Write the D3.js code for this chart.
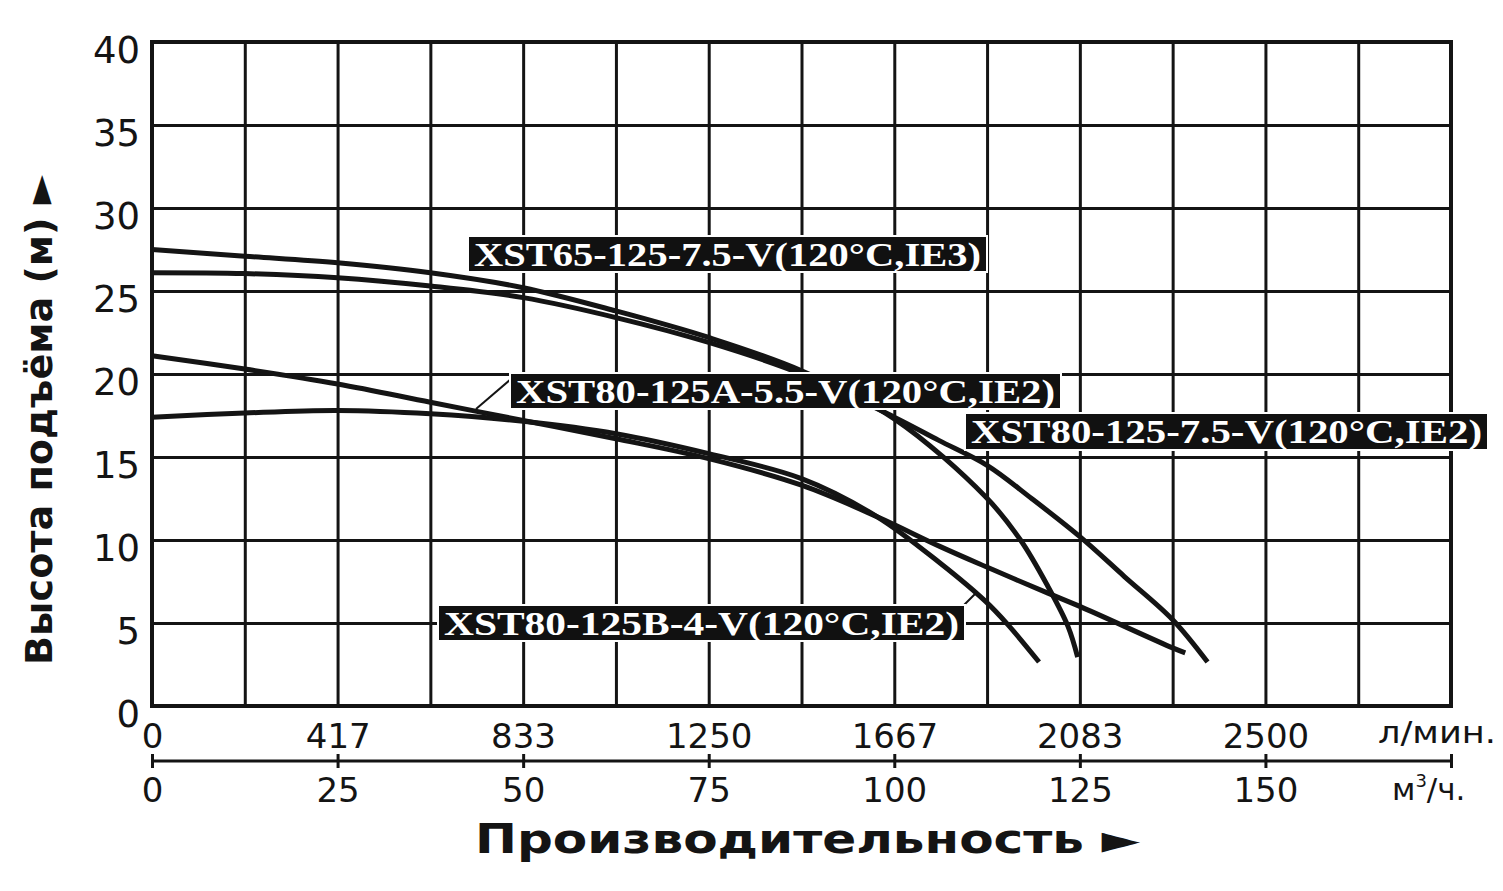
<!DOCTYPE html>
<html>
<head>
<meta charset="utf-8">
<script src="https://cdn.jsdelivr.net/npm/d3@7"></script>
<style>
  html, body { margin: 0; padding: 0; background: #fff; }
  svg { display: block; }
</style>
</head>
<body>
<svg id="chart" width="1503" height="891"></svg>
<script>
// ---------- DATA ----------
const flowTicksM3h = [0, 25, 50, 75, 100, 125, 150, 175];
const flowTicksLmin = [0, 417, 833, 1250, 1667, 2083, 2500];
const headTicks = [0, 5, 10, 15, 20, 25, 30, 35, 40];

const seriesNames = [
  "XST65-125-7.5-V(120°C,IE3)",
  "XST80-125A-5.5-V(120°C,IE2)",
  "XST80-125-7.5-V(120°C,IE2)",
  "XST80-125B-4-V(120°C,IE2)"
];

// flow in m³/h, head in m
const q_65_75  = [0, 12.5, 25, 37.5, 50, 62.5, 75, 87.5, 100, 112.3, 117, 120.7, 123.4, 124.7];
const h_65_75  = [27.5, 27.1, 26.7, 26.1, 25.2, 23.8, 22.2, 20.2, 17.3, 12.6, 10.0, 7.2, 4.8, 2.95];

const q_80_75  = [0, 12.5, 25, 37.5, 50, 62.5, 75, 87.5, 100, 106, 112.5, 118.5, 125, 131, 137.5, 142.2];
const h_80_75  = [26.1, 26.05, 25.8, 25.3, 24.6, 23.4, 21.9, 20.0, 17.4, 16.0, 14.5, 12.5, 10.2, 7.8, 5.2, 2.65];

const q_80A_55 = [0, 12.5, 25, 37.5, 50, 62.5, 75, 87.5, 97.7, 106.2, 112.3, 120.7, 125, 137.5, 139.2];
const h_80A_55 = [21.1, 20.3, 19.4, 18.3, 17.2, 16.1, 14.9, 13.3, 11.4, 9.6, 8.4, 6.8, 6.0, 3.5, 3.2];

const q_80B_4  = [0, 12.5, 25, 37.5, 50, 62.5, 75, 87.5, 97.7, 106.2, 112.3, 115.3, 119.5];
const h_80B_4  = [17.4, 17.65, 17.8, 17.6, 17.15, 16.4, 15.2, 13.7, 11.4, 8.6, 6.3, 4.9, 2.65];

// ---------- LAYOUT ----------
const svg = d3.select("#chart");
const L = 152, R = 1451, T = 42, B = 706;
const x = d3.scaleLinear().domain([0, 175]).range([L, R]);
const y = d3.scaleLinear().domain([0, 40]).range([B, T]);
const xl = d3.scaleLinear().domain([0, 175 * 1000 / 60]).range([L, R]);

const ink = "#141414";

// grid (via axes)
const gridX = svg.append("g").attr("transform", `translate(0,${B})`)
  .call(d3.axisBottom(x).tickValues(d3.range(0, 175.01, 12.5)).tickSize(-(B - T)).tickFormat(""));
gridX.select(".domain").remove();
gridX.selectAll("line").attr("stroke", ink).attr("stroke-width", 3);

const gridY = svg.append("g").attr("transform", `translate(${L},0)`)
  .call(d3.axisLeft(y).tickValues(headTicks).tickSize(-(R - L)).tickFormat(""));
gridY.select(".domain").remove();
gridY.selectAll("line").attr("stroke", ink).attr("stroke-width", 3);

// frame
svg.append("rect").attr("x", L).attr("y", T).attr("width", R - L).attr("height", B - T)
  .attr("fill", "none").attr("stroke", ink).attr("stroke-width", 4);

// y tick labels
const yAx = svg.append("g").attr("transform", `translate(${L},0)`)
  .call(d3.axisLeft(y).tickValues(headTicks).tickSize(0).tickPadding(12));
yAx.select(".domain").remove();
yAx.selectAll("text")
  .attr("font-family", "DejaVu Sans").attr("font-size", 37).attr("fill", ink)
  .attr("dy", "0.55em");

// top (l/min) labels
const topAx = svg.append("g").attr("transform", `translate(0,${B})`)
  .call(d3.axisBottom(xl).tickValues(flowTicksLmin).tickSize(0).tickFormat(d3.format("d")));
topAx.select(".domain").remove();
topAx.selectAll("text")
  .attr("font-family", "DejaVu Sans").attr("font-size", 34).attr("fill", ink)
  .attr("y", 42).attr("dy", 0);

// secondary (m³/h) axis
const botY = 761;
const botAx = svg.append("g").attr("transform", `translate(0,${botY})`)
  .call(d3.axisBottom(x).tickValues(flowTicksM3h).tickSize(7).tickPadding(0)
    .tickFormat(d => d === 175 ? "" : d));
botAx.select(".domain").attr("d", `M${L},0H${R}`).attr("stroke", ink).attr("stroke-width", 3);
botAx.selectAll("line").attr("y1", -7).attr("y2", 7).attr("stroke", ink).attr("stroke-width", 3);
botAx.selectAll("text")
  .attr("font-family", "DejaVu Sans").attr("font-size", 34).attr("fill", ink)
  .attr("y", 41).attr("dy", 0);

// unit labels
svg.append("text").attr("x", 1378).attr("y", 743)
  .attr("font-family", "DejaVu Sans").attr("font-size", 31).attr("fill", ink)
  .attr("textLength", 118).attr("lengthAdjust", "spacingAndGlyphs").text("л/мин.");
const mu = svg.append("text").attr("x", 1392).attr("y", 800)
  .attr("font-family", "DejaVu Sans").attr("font-size", 31).attr("fill", ink);
mu.append("tspan").text("м");
mu.append("tspan").attr("dy", -13).attr("font-size", 18).text("3");
mu.append("tspan").attr("dy", 13).text("/ч.");

// axis titles
svg.append("text").attr("x", 475).attr("y", 853)
  .attr("font-family", "DejaVu Sans").attr("font-weight", "bold").attr("font-size", 40)
  .attr("fill", ink).attr("textLength", 665).attr("lengthAdjust", "spacingAndGlyphs")
  .text("Производительность ►");

svg.append("text").attr("transform", "translate(52,420) rotate(-90)")
  .attr("text-anchor", "middle")
  .attr("font-family", "DejaVu Sans").attr("font-weight", "bold").attr("font-size", 38)
  .attr("fill", ink).attr("textLength", 490).attr("lengthAdjust", "spacingAndGlyphs")
  .text("Высота подъёма (м) ►");

// curves
const series = [
  { q: q_65_75, h: h_65_75 },
  { q: q_80A_55, h: h_80A_55 },
  { q: q_80_75, h: h_80_75 },
  { q: q_80B_4, h: h_80B_4 }
];
const line = d3.line().x(d => x(d[0])).y(d => y(d[1])).curve(d3.curveCatmullRom.alpha(0.5));
svg.append("g").selectAll("path").data(series).join("path")
  .attr("d", s => line(s.q.map((v, i) => [v, s.h[i]])))
  .attr("fill", "none").attr("stroke", ink).attr("stroke-width", 5);

// leader lines
svg.append("line").attr("x1", 476).attr("y1", 409).attr("x2", 511).attr("y2", 379)
  .attr("stroke", ink).attr("stroke-width", 2);
svg.append("line").attr("x1", 964).attr("y1", 605).attr("x2", 975).attr("y2", 594)
  .attr("stroke", ink).attr("stroke-width", 2);

// labels
const boxes = [
  { x0: 468, x1: 987, y0: 236, y1: 272 },
  { x0: 510, x1: 1061, y0: 373, y1: 409 },
  { x0: 965, x1: 1488, y0: 413, y1: 450 },
  { x0: 438, x1: 965, y0: 605, y1: 641 }
];
const lg = svg.append("g").selectAll("g").data(seriesNames).join("g");
lg.append("rect")
  .attr("x", (d, i) => boxes[i].x0).attr("y", (d, i) => boxes[i].y0)
  .attr("width", (d, i) => boxes[i].x1 - boxes[i].x0).attr("height", (d, i) => boxes[i].y1 - boxes[i].y0)
  .attr("fill", "#111").attr("stroke", "#fff").attr("stroke-width", 2);
lg.append("text")
  .attr("x", (d, i) => boxes[i].x0 + 6)
  .attr("y", (d, i) => (boxes[i].y0 + boxes[i].y1) / 2 + 11.5)
  .attr("textLength", (d, i) => boxes[i].x1 - boxes[i].x0 - 12)
  .attr("lengthAdjust", "spacingAndGlyphs")
  .attr("font-family", "Liberation Serif").attr("font-weight", "bold").attr("font-size", 34)
  .attr("fill", "#fff").text(d => d);
</script>
</body>
</html>
